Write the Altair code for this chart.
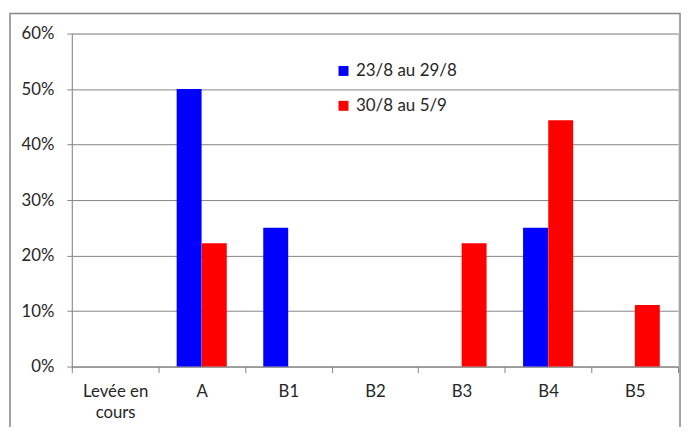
import altair as alt
import pandas as pd

categories = ["Levée en cours", "A", "B1", "B2", "B3", "B4", "B5"]
series_names = ["23/8 au 29/8", "30/8 au 5/9"]
week1 = [0.0, 0.50, 0.25, 0.0, 0.0, 0.25, 0.0]
week2 = [0.0, 0.222, 0.0, 0.0, 0.222, 0.444, 0.111]
colors = ["#0000FF", "#FF0000"]

rows = []
for c, v in zip(categories, week1):
    rows.append({"cat": c, "serie": series_names[0], "val": v})
for c, v in zip(categories, week2):
    rows.append({"cat": c, "serie": series_names[1], "val": v})
df = pd.DataFrame(rows)

FONT = "Lato"
GRID = "#868686"
TXT = "#262626"

bars = alt.Chart(df).mark_bar(size=25).encode(
    x=alt.X("cat:N", sort=categories, title=None,
            scale=alt.Scale(paddingInner=0, paddingOuter=0),
            axis=alt.Axis(labelAngle=0, tickBand="extent", tickSize=6,
                          tickColor=GRID, domainColor=GRID, labelColor=TXT,
                          labelFont=FONT, labelFontSize=16.8, labelPadding=11,
                          labelLineHeight=21,
                          labelExpr="datum.label == 'Levée en cours' ? ['Levée en', 'cours'] : datum.label")),
    xOffset=alt.XOffset("serie:N", sort=series_names,
                        scale=alt.Scale(paddingInner=0, paddingOuter=0.72)),
    y=alt.Y("val:Q", title=None,
            scale=alt.Scale(domain=[0, 0.6], nice=False),
            axis=alt.Axis(format=".0%", values=[0, 0.1, 0.2, 0.3, 0.4, 0.5, 0.6],
                          grid=True, gridColor=GRID, tickColor=GRID, domainColor=GRID,
                          tickSize=5, labelColor=TXT, labelFont=FONT, labelFontSize=16.8,
                          labelPadding=13)),
    color=alt.Color("serie:N", sort=series_names,
                    scale=alt.Scale(domain=series_names, range=colors),
                    legend=alt.Legend(title=None, orient="none", legendX=264, legendY=29,
                                      symbolType="square", symbolSize=100,
                                      symbolStrokeWidth=0, labelFont=FONT,
                                      labelFontSize=17, labelColor=TXT,
                                      rowPadding=17, labelOffset=4)),
)

frame = alt.Chart(pd.DataFrame({"k": [0]})).mark_rect(
    fill=None, stroke="#868686", strokeWidth=1.5
).encode(x=alt.value(-62), x2=alt.value(610), y=alt.value(-20), y2=alt.value(460))

chart = alt.layer(frame, bars).properties(
    width=608, height=334,
    padding={"left": 64, "top": 25, "right": 8, "bottom": 60},
    autosize=alt.AutoSizeParams(type="none"),
).configure_view(stroke=GRID, strokeWidth=1).configure(background="white")

chart.save("out.html", embed_options={"renderer": "svg", "actions": False})
